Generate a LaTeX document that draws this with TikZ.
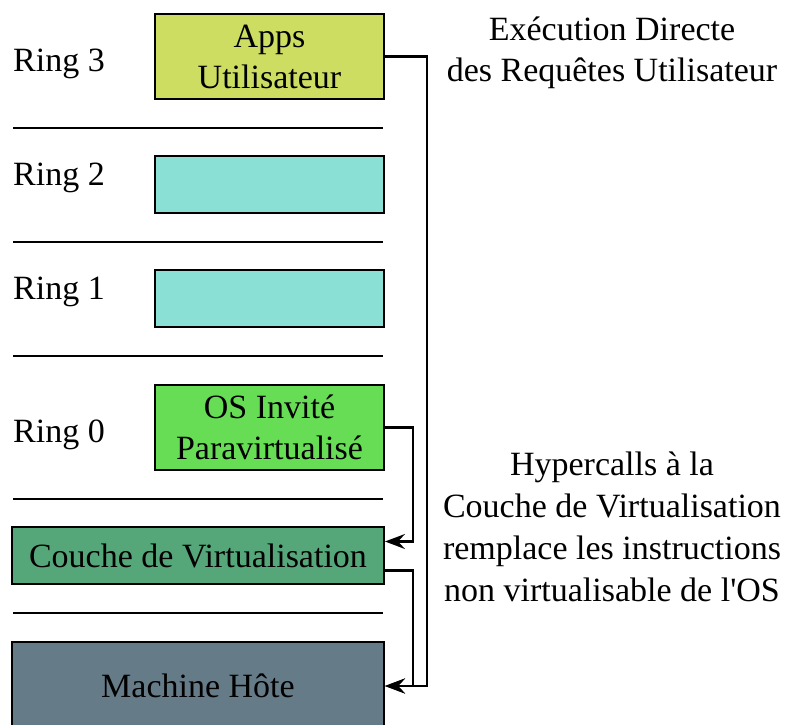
\documentclass[tikz,border=0pt]{standalone}
\usepackage{fontspec}
\setmainfont{Liberation Serif}
\usetikzlibrary{arrows.meta}

\definecolor{appscol}{RGB}{205,221,98}
\definecolor{ringcol}{RGB}{138,224,212}
\definecolor{oscol}{RGB}{102,221,85}
\definecolor{couchecol}{RGB}{85,167,122}
\definecolor{hostcol}{RGB}{102,123,136}

\begin{document}
\begin{tikzpicture}[x=1pt,y=-1pt,
	every node/.style={font=\fontsize{34}{41}\selectfont},
	layer/.style={draw=black,line width=2pt,align=center,inner sep=0pt},
	ringlabel/.style={anchor=base west,inner sep=0pt},
	sep/.style={line width=1.5pt},
	conn/.style={line width=2.5pt,-{Stealth[length=20pt,width=15pt,inset=7pt]}}]
	\useasboundingbox (0,0) rectangle (785,725);

	% separations between rings
	\foreach \y in {128,242,356,499,613}
		\draw[sep] (13,\y) -- (383,\y);

	\node[ringlabel] (r3) at (13,72) {Ring 3};
	\node[ringlabel] (r2) at (13,185) {Ring 2};
	\node[ringlabel] (r1) at (13,299) {Ring 1};
	\node[ringlabel] (r0) at (13,442) {Ring 0};

	\node[layer,fill=appscol,minimum width=229pt,minimum height=85pt] (apps) at (269.5,56.5) {Apps\\Utilisateur};
	\node[layer,fill=ringcol,minimum width=229pt,minimum height=57pt] (ring2) at (269.5,184.5) {};
	\node[layer,fill=ringcol,minimum width=229pt,minimum height=57pt] (ring1) at (269.5,298.5) {};
	\node[layer,fill=oscol,minimum width=229pt,minimum height=85pt] (os) at (269.5,427.5) {OS Invité\\Paravirtualisé};
	\node[layer,fill=couchecol,minimum width=372pt,minimum height=57pt] (couche) at (198,555.5) {Couche de Virtualisation};
	\node[layer,fill=hostcol,minimum width=372pt,minimum height=88pt] (host) at (198,686) {Machine Hôte};

	\node[align=center] (direct) at (612,53) {Exécution Directe\\des Requêtes Utilisateur};
	\node[align=center,font=\fontsize{34}{42}\selectfont] (hyper) at (612,526.5) {Hypercalls à la\\Couche de Virtualisation\\remplace les instructions\\non virtualisable de l\textquotesingle OS};

	\draw[conn] (apps.east) -- ++(42,0) |- (host.east);
	\draw[conn] (os.east) -- ++(28,0) |- ([yshift=14pt]couche.east);
	\draw[conn] ([yshift=-15pt]couche.east) -- ++(28,0) |- (host.east);
\end{tikzpicture}
\end{document}
